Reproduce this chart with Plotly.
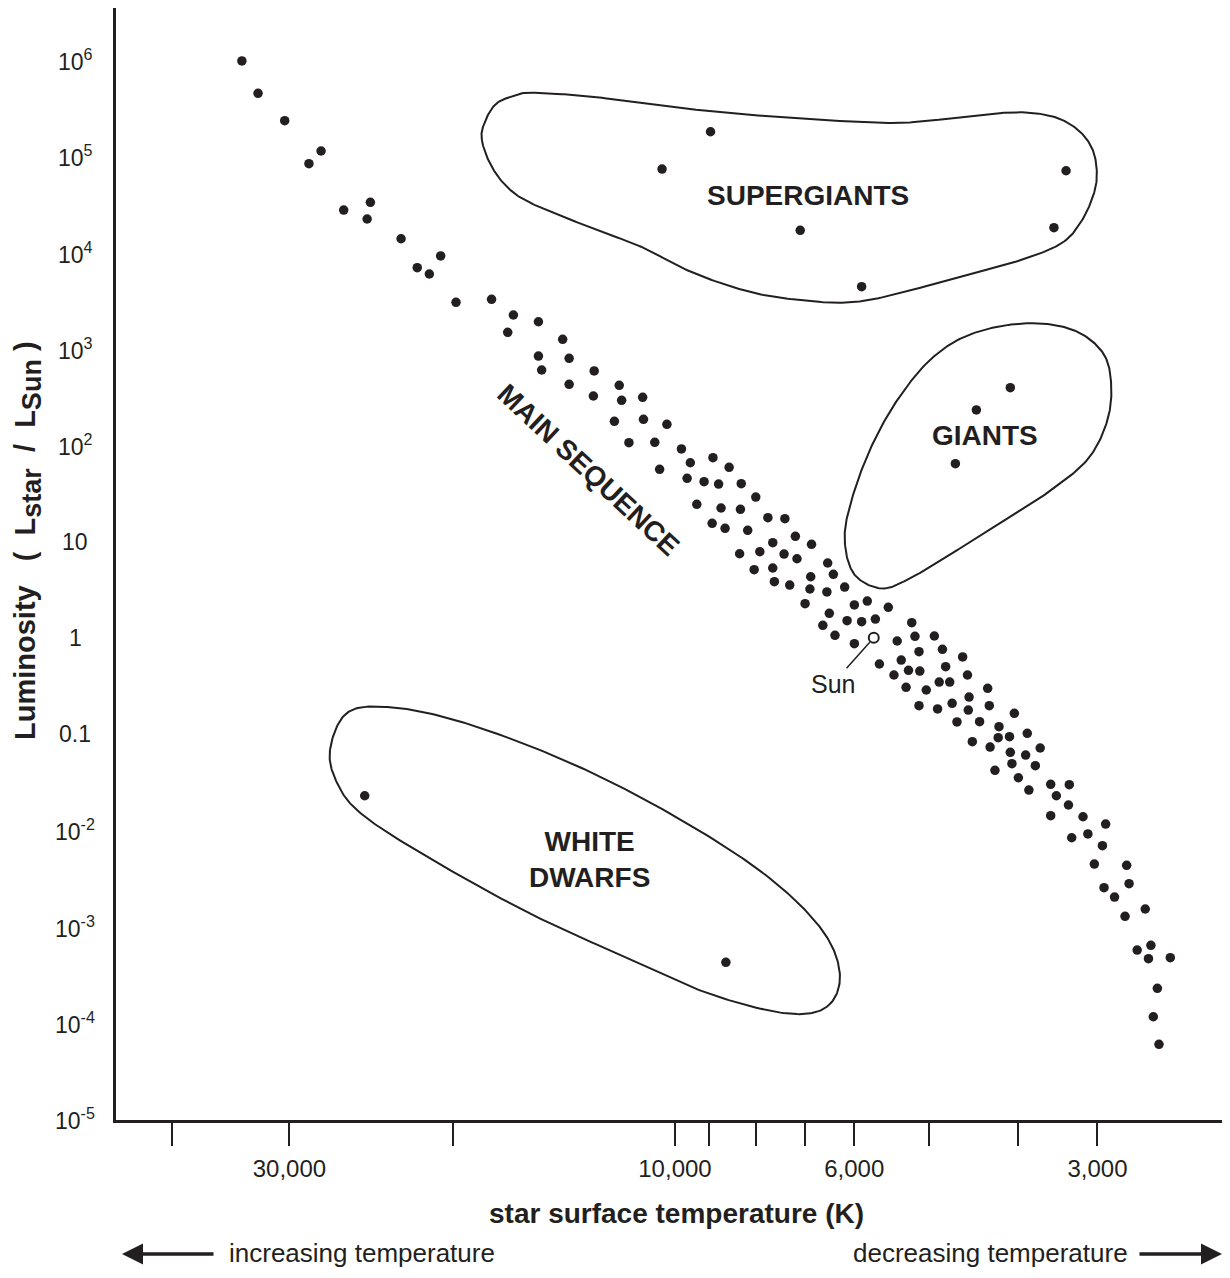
import numpy as np
import plotly.graph_objects as go

INK = "#231f20"
FONT = "Liberation Sans, Arial, Helvetica, sans-serif"

# ---------------- data (log10 of surface temperature [K], log10 of L/Lsun) ----------------
ms_log_temp = [
    4.536, 4.516, 4.483, 4.438, 4.453, 4.377, 4.410, 4.381, 4.339, 4.290, 4.319, 4.304, 4.271,
    4.227, 4.200, 4.207, 4.169, 4.139, 4.169, 4.131, 4.165, 4.100, 4.131, 4.069, 4.101, 4.066,
    4.040, 4.075, 4.039, 4.010, 4.057, 4.025, 3.992, 3.981, 3.953, 4.019, 3.985, 3.964, 3.946,
    3.973, 3.943, 3.954,
    3.933, 3.918, 3.900, 3.919, 3.885, 3.864, 3.938, 3.910, 3.851, 3.879, 3.831, 3.920, 3.895,
    3.865, 3.849, 3.811, 3.902, 3.879, 3.804, 3.832, 3.877, 3.858, 3.790, 3.833, 3.812, 3.839,
    3.778, 3.762, 3.809, 3.817, 3.787, 3.769, 3.752, 3.802, 3.778,
    3.736, 3.707, 3.725, 3.703, 3.679, 3.747, 3.720, 3.698, 3.669, 3.644, 3.729, 3.711, 3.697,
    3.665, 3.638, 3.714, 3.689, 3.673, 3.660, 3.613, 3.636, 3.698, 3.675, 3.657, 3.637, 3.611,
    3.580, 3.651, 3.623, 3.599, 3.564, 3.600, 3.586, 3.632, 3.610, 3.548, 3.585, 3.566, 3.604,
    3.583, 3.554, 3.575, 3.562, 3.535, 3.528, 3.535,
    3.512, 3.513, 3.495, 3.467, 3.509, 3.489, 3.471, 3.481, 3.441, 3.438, 3.469, 3.456, 3.418,
    3.443, 3.428, 3.411, 3.414, 3.387, 3.403, 3.408, 3.401,
]
ms_log_lum = [
    5.990, 5.654, 5.370, 5.055, 4.923, 4.522, 4.442, 4.349, 4.144, 3.965, 3.843, 3.778, 3.484,
    3.515, 3.352, 3.172, 3.282, 3.100, 2.926, 2.902, 2.781, 2.771, 2.632, 2.622, 2.511, 2.466,
    2.497, 2.248, 2.269, 2.217, 2.026, 2.030, 1.961, 1.818, 1.870, 1.750, 1.656, 1.621, 1.597,
    1.386, 1.348, 1.189,
    1.770, 1.600, 1.462, 1.334, 1.247, 1.237, 1.137, 1.116, 1.054, 0.988, 0.971, 0.873, 0.894,
    0.870, 0.821, 0.777, 0.707, 0.725, 0.659, 0.634, 0.583, 0.548, 0.527, 0.507, 0.476, 0.354,
    0.341, 0.382, 0.254, 0.130, 0.178, 0.167, 0.195, 0.026, -0.061,
    0.317, 0.157, -0.033, 0.016, 0.019, -0.272, -0.231, -0.144, -0.119, -0.199, -0.386, -0.338,
    -0.345, -0.300, -0.386, -0.514, -0.542, -0.459, -0.459, -0.524, -0.615, -0.705, -0.739,
    -0.680, -0.750, -0.705, -0.784, -0.874, -0.871, -0.923, -0.992, -1.037, -1.027, -1.079,
    -1.134, -1.144, -1.189, -1.217, -1.376, -1.307, -1.328, -1.453, -1.581, -1.521, -1.640,
    -1.847,
    -1.525, -1.736, -1.858, -1.934, -2.076, -2.037, -2.159, -2.349, -2.362, -2.553, -2.595,
    -2.692, -2.816, -2.892, -3.242, -3.193, -3.332, -3.322, -3.640, -3.935, -4.221,
]

supergiant_log_temp = [3.956, 4.016, 3.845, 3.769, 3.516, 3.531]
supergiant_log_lum = [5.255, 4.868, 4.232, 3.646, 4.850, 4.259]

giant_log_temp = [3.585, 3.627, 3.653]
giant_log_lum = [2.597, 2.366, 1.808]

white_dwarf_log_temp = [4.384, 3.937]
white_dwarf_log_lum = [-1.640, -3.370]

sun_log_temp = 3.754
sun_log_lum = 0.0

# region outlines (log10 T, log10 L)
supergiant_region_t = [4.239, 4.236, 4.223, 4.203, 4.178, 4.103, 4.026, 3.950, 3.850, 3.749,
                       3.698, 3.623, 3.572, 3.530, 3.501, 3.484, 3.478, 3.481, 3.496, 3.521,
                       3.572, 3.647, 3.723, 3.774, 3.824, 3.900, 3.976, 4.042, 4.102, 4.178,
                       4.208, 4.228]
supergiant_region_l = [5.169, 5.343, 5.533, 5.619, 5.660, 5.619, 5.533, 5.463, 5.395, 5.349,
                       5.359, 5.429, 5.457, 5.408, 5.273, 5.086, 4.858, 4.629, 4.339, 4.100,
                       3.923, 3.750, 3.577, 3.490, 3.490, 3.577, 3.785, 4.061, 4.252, 4.512,
                       4.684, 4.910]

giant_region_t = [3.565, 3.631, 3.680, 3.722, 3.755, 3.779, 3.790, 3.779, 3.746, 3.713,
                  3.664, 3.598, 3.540, 3.490, 3.466, 3.460, 3.470, 3.507]
giant_region_l = [3.266, 3.162, 2.919, 2.504, 2.020, 1.500, 1.050, 0.670, 0.514, 0.600,
                  0.842, 1.189, 1.500, 1.846, 2.227, 2.607, 2.954, 3.196]

white_dwarf_region_t = [4.427, 4.418, 4.389, 4.314, 4.188, 4.063, 3.959, 3.863, 3.812, 3.796,
                        3.821, 3.896, 4.021, 4.147, 4.272, 4.356, 4.406]
white_dwarf_region_l = [-1.165, -1.511, -1.822, -2.238, -2.827, -3.312, -3.692, -3.899, -3.831,
                        -3.484, -3.000, -2.411, -1.754, -1.235, -0.854, -0.719, -0.781]

# axis ticks
x_tick_vals = [41900, 30000, 18800, 10000, 9080, 7930, 6910, 6000, 4850, 3760, 3000]
x_tick_text = ["", "30,000", "", "10,000", "", "", "", "6,000", "", "", "3,000"]
y_tick_exp = [6, 5, 4, 3, 2, 1, 0, -1, -2, -3, -4, -5]
y_tick_text = ["10<sup>6</sup>", "10<sup>5</sup>", "10<sup>4</sup>", "10<sup>3</sup>",
               "10<sup>2</sup>", "10", "1", "0.1", "10<sup>-2</sup>", "10<sup>-3</sup>",
               "10<sup>-4</sup>", "10<sup>-5</sup>"]


def closed_curve(xs, ys, n=24):
    """Smooth closed Catmull-Rom curve through outline points (in log space)."""
    p = np.column_stack([xs, ys])
    m = len(p)
    out = []
    for i in range(m):
        p0, p1, p2, p3 = p[(i - 1) % m], p[i], p[(i + 1) % m], p[(i + 2) % m]
        for t in np.linspace(0, 1, n, endpoint=False):
            t2, t3 = t * t, t * t * t
            out.append(0.5 * (2 * p1 + (-p0 + p2) * t + (2 * p0 - 5 * p1 + 4 * p2 - p3) * t2
                              + (-p0 + 3 * p1 - 3 * p2 + p3) * t3))
    out.append(out[0])
    out = np.array(out)
    return 10 ** out[:, 0], 10 ** out[:, 1]


def pw(a):
    return [10 ** v for v in a]


fig = go.Figure()

for rt, rl in [(supergiant_region_t, supergiant_region_l),
               (giant_region_t, giant_region_l),
               (white_dwarf_region_t, white_dwarf_region_l)]:
    cx, cy = closed_curve(rt, rl)
    fig.add_trace(go.Scatter(x=cx, y=cy, mode="lines",
                             line=dict(color=INK, width=2), hoverinfo="skip"))

dot = dict(size=9.5, color=INK, line=dict(width=0))
fig.add_trace(go.Scatter(x=pw(ms_log_temp), y=pw(ms_log_lum), mode="markers", marker=dot,
                         name="main sequence"))
fig.add_trace(go.Scatter(x=pw(supergiant_log_temp), y=pw(supergiant_log_lum), mode="markers",
                         marker=dot, name="supergiants"))
fig.add_trace(go.Scatter(x=pw(giant_log_temp), y=pw(giant_log_lum), mode="markers",
                         marker=dot, name="giants"))
fig.add_trace(go.Scatter(x=pw(white_dwarf_log_temp), y=pw(white_dwarf_log_lum), mode="markers",
                         marker=dot, name="white dwarfs"))
fig.add_trace(go.Scatter(x=[10 ** sun_log_temp], y=[10 ** sun_log_lum], mode="markers",
                         marker=dict(size=10, color="white", line=dict(color=INK, width=2)),
                         name="Sun"))

# page geometry (the HTML body adds an 8 px margin)
OFF = 8
FIG_W, FIG_H = 1222, 1262
L, R, T, B = 116, 1230, 8, 1120   # plot area in page pixels


def px(xp):
    return (xp - L) / (R - L)


def py(yp):
    return (B - yp) / (B - T)


def txt(x, y, text, size, bold=False, **kw):
    d = dict(x=px(x), y=py(y), xref="paper", yref="paper", showarrow=False,
             xanchor="center", yanchor="middle",
             text=f"<b>{text}</b>" if bold else text,
             font=dict(family=FONT, size=size, color=INK))
    d.update(kw)
    return d


ann = []
for e, t in zip(y_tick_exp, y_tick_text):
    ann.append(dict(x=px(75), y=e, xref="paper", yref="y", text=t, showarrow=False,
                    xanchor="center", yanchor="middle",
                    font=dict(family=FONT, size=23, color=INK)))

bold = dict(family=FONT, size=28, color=INK)
sub = "<sub><span style='font-size:27px'>{}</span></sub>"
ann += [
    dict(x=3.835, y=4.598, xref="x", yref="y", text="<b>SUPERGIANTS</b>", showarrow=False,
         xanchor="center", yanchor="middle", font=bold),
    dict(x=3.616, y=2.096, xref="x", yref="y", text="<b>GIANTS</b>", showarrow=False,
         xanchor="center", yanchor="middle", font=bold),
    dict(x=4.106, y=-2.307, xref="x", yref="y", text="<b>WHITE<br>DWARFS</b>", showarrow=False,
         xanchor="center", yanchor="middle", font=bold),
    dict(x=4.108, y=1.743, xref="x", yref="y", text="<b>MAIN SEQUENCE</b>", showarrow=False,
         xanchor="center", yanchor="middle", textangle=43,
         font=dict(family=FONT, size=28, color=INK)),
    dict(x=sun_log_temp, y=sun_log_lum, xref="x", yref="y", text="Sun", showarrow=True,
         ax=-41, ay=46, arrowhead=0, arrowwidth=1.5, arrowcolor=INK, standoff=6,
         font=dict(family=FONT, size=25, color=INK)),
    txt(28, 541, "Luminosity   (  L" + sub.format("star") + "  /  L" + sub.format("Sun") + " )",
        29, bold=True, textangle=-90),
    txt(676, 1213, "star surface temperature (K)", 28, bold=True),
    txt(361.5, 1253, "increasing temperature", 26),
    txt(990.5, 1253, "decreasing temperature", 26),
    dict(x=px(122), y=py(1254), xref="paper", yref="paper", text="", showarrow=True,
         ax=93, ay=0, arrowhead=2, arrowsize=1.2, arrowwidth=3.5, arrowcolor=INK),
    dict(x=px(1222), y=py(1254), xref="paper", yref="paper", text="", showarrow=True,
         ax=-84, ay=0, arrowhead=2, arrowsize=1.2, arrowwidth=3.5, arrowcolor=INK),
]

fig.update_layout(
    width=FIG_W, height=FIG_H,
    margin=dict(l=L - OFF, r=FIG_W - (R - OFF), t=T - OFF, b=FIG_H - (B - OFF)),
    paper_bgcolor="white", plot_bgcolor="white",
    showlegend=False,
    annotations=ann,
    xaxis=dict(type="log", range=[4.6918, 3.3131], showgrid=False, zeroline=False,
               showline=True, linecolor=INK, linewidth=2.5,
               ticks="outside", ticklen=23, tickwidth=2, tickcolor=INK,
               tickvals=x_tick_vals, ticktext=x_tick_text, ticklabelstandoff=2,
               tickfont=dict(family=FONT, size=24, color=INK)),
    yaxis=dict(type="log", range=[-5.007, 6.540], showgrid=False, zeroline=False,
               showline=True, linecolor=INK, linewidth=2.5, ticks="",
               showticklabels=False),
)

fig.write_html("out.html")
